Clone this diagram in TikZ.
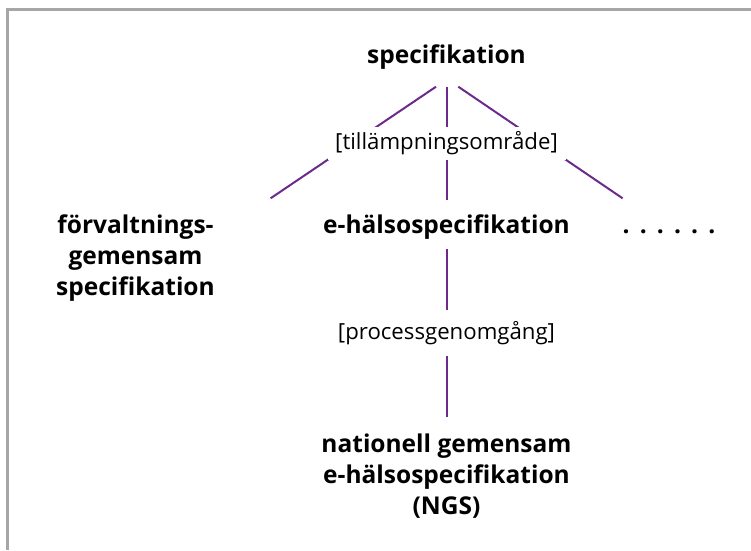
\documentclass[tikz,border=0pt]{standalone}
\usepackage{fontspec}
\setmainfont{Open Sans}[Ligatures=NoCommon]
\definecolor{treepurple}{RGB}{108,42,140}
\definecolor{framegray}{RGB}{166,166,166}

\begin{document}
\begin{tikzpicture}[x=1pt,y=-1pt,
    term/.style={font=\bfseries\fontsize{24.5}{31}\selectfont, align=center, inner sep=0pt},
    qualifier/.style={font=\fontsize{22.2}{24}\selectfont, fill=white, inner sep=0pt},
    branch/.style={draw=treepurple, line width=2pt}]
  \useasboundingbox (0,0) rectangle (751,550);
  % frame
  \draw[framegray, line width=2.4pt] (7.3,550) -- (7.3,9.5) -- (751,9.5);
  % terms
  \node[term] (spec) at (446.5,57) {specifikation};
  \node[term] (forv) at (135.5,258) {förvaltnings-\\gemensam\\specifikation};
  \node[term] (ehalsa) at (446.5,227) {e-hälsospecifikation};
  \node[term, anchor=base] (dots) at (669,233) {\spaceskip=8pt\relax . . . . . .};
  \node[term] (ngs) at (446.5,476) {nationell gemensam\\e-hälsospecifikation\\(NGS)};
  % line ends
  \coordinate (spec-sw) at (436,86.7);
  \coordinate (spec-s) at (446.7,86.7);
  \coordinate (spec-se) at (458.3,86.7);
  \coordinate (forv-ne) at (270.6,198.3);
  \coordinate (ehalsa-n) at (446.7,200);
  \coordinate (dots-nw) at (622.6,198.3);
  \coordinate (ehalsa-s) at (446.7,249.3);
  \coordinate (ngs-n) at (446.7,416.7);
  % branches
  \draw[branch] (spec-sw) -- (forv-ne);
  \draw[branch] (spec-s) -- (ehalsa-n);
  \draw[branch] (spec-se) -- (dots-nw);
  \draw[branch] (ehalsa-s) -- (ngs-n);
  % qualifiers
  \node[qualifier, minimum width=238, minimum height=33] (omrade) at (446.5,143) {[tillämpningsområde]};
  \node[qualifier, minimum height=46] (process) at (446.5,333) {[processgenomgång]};
\end{tikzpicture}
\end{document}
